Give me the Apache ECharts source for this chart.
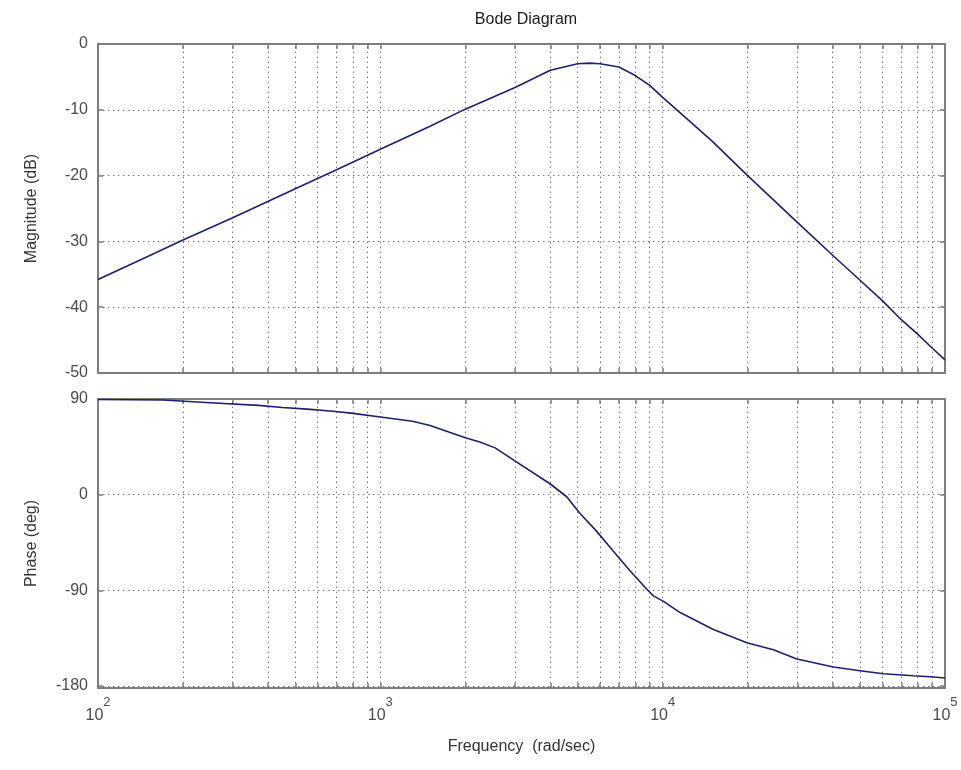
<!DOCTYPE html>
<html>
<head>
<meta charset="utf-8">
<script src="https://cdn.jsdelivr.net/npm/echarts@6/dist/echarts.min.js"></script>
<style>html,body{margin:0;padding:0;background:#fff}#chart{width:961px;height:770px}</style>
</head>
<body>
<div id="chart"></div>
<script>
// ---- data ----
const magFreq = [100,150,200,300,500,700,1000,1500,2000,3000,4000,5000,5500,6000,7000,8000,9000,10000,15000,20000,30000,40000,50000,60000,70000,80000,90000,100000];
const magDb   = [-35.8,-32.3,-29.8,-26.4,-22.0,-19.1,-16.0,-12.5,-9.9,-6.6,-4.0,-3.0,-2.9,-3.0,-3.5,-4.8,-6.3,-8.1,-14.8,-20.0,-27.1,-32.1,-35.9,-39.0,-41.9,-44.1,-46.2,-48.0];

const phaseFreq = [100,170,250,370,450,550,680,800,1000,1300,1500,2000,2250,2550,2950,4000,4570,5090,5840,6680,7660,8790,9270,10070,11530,13200,15130,19870,24680,29870,40250,50000,60500,77300,91000,100000];
const phaseDeg  = [89.5,89,86.5,84,82,80.5,78.5,76.5,73,69,65,53.5,49.5,44,33,10,-2,-17.6,-34.6,-53,-71.7,-89,-95.3,-100.5,-111,-119,-127,-139.5,-146,-154.7,-162.3,-165.7,-168.6,-170.5,-171.7,-172.6];

// ---- axis ticks / labels ----
const xLabelFreqs = [100,1000,10000,100000];
const xLabelExp = ['2','3','4','5'];
const xTickFreqs = [100,200,300,400,500,600,700,800,900,1000,2000,3000,4000,5000,6000,7000,8000,9000,10000,20000,30000,40000,50000,60000,70000,80000,90000,100000];
const xGridFreqs = [200,300,400,500,600,700,800,900,1000,2000,3000,4000,5000,6000,7000,8000,9000,10000,20000,30000,40000,50000,60000,70000,80000,90000];
const magTicks = [0,-10,-20,-30,-40,-50];
const magGrid = [-10,-20,-30,-40];
const phaseTicks = [90,0,-90,-180];
const phaseGrid = [0,-90,-180];

const FONT = 'Liberation Sans, Arial, sans-serif';
const AX = '#7d7d7d';
const LINE = '#1f1f6b';
const gridLine = {color:'#707070', width:1, type:[1.4,3.6]};

function xAxisDef(gi, pos, withLabels){
  const a = {
    gridIndex: gi, type:'log', logBase:10, min:100, max:100000, position: pos,
    axisLine:{show:true, onZero:false, lineStyle:{color:AX, width:2}},
    axisTick:{show:true, inside:true, length:5, lineStyle:{color:AX, width:1.5}, customValues: xTickFreqs},
    minorTick:{show:false}, splitLine:{show:false},
    axisLabel:{show:false}
  };
  if (withLabels){
    a.axisLabel = {
      show:true, margin:8, customValues: xLabelFreqs,
      formatter: function(v){ const i = xLabelFreqs.indexOf(v); const e = i>=0 ? xLabelExp[i] : String(Math.round(Math.log10(v))); return '{b|10}{s|' + e + '}'; },
      rich:{
        b:{fontFamily:FONT, fontSize:16, color:'#4a4a4a', lineHeight:28, verticalAlign:'bottom'},
        s:{fontFamily:FONT, fontSize:13, color:'#4a4a4a', lineHeight:28, verticalAlign:'top'}
      }
    };
    a.name = 'Frequency  (rad/sec)';
    a.nameLocation = 'middle';
    a.nameGap = 51;
    a.nameTextStyle = {fontFamily:FONT, fontSize:16, color:'#333'};
  }
  return a;
}
function yAxisDef(gi, pos, min, max, ticks, withLabels, name){
  const a = {
    gridIndex: gi, type:'value', min:min, max:max, position: pos,
    axisLine:{show:true, onZero:false, lineStyle:{color:AX, width:2}},
    axisTick:{show:true, inside:true, length:5, lineStyle:{color:AX, width:1.5}, customValues: ticks},
    splitLine:{show:false},
    axisLabel:{show:withLabels, customValues: ticks, margin:10, fontFamily:FONT, fontSize:16, color:'#4a4a4a'}
  };
  if (name){
    a.name = name; a.nameLocation='middle'; a.nameGap = 58;
    a.nameTextStyle = {fontFamily:FONT, fontSize:16, color:'#333'};
  }
  return a;
}

const chart = echarts.init(document.getElementById('chart'), null, {renderer:'canvas'});
chart.setOption({
  animation:false,
  backgroundColor:'#fff',
  title:{text:'Bode Diagram', left:521, top:7, textAlign:'center',
    textStyle:{fontFamily:FONT, fontSize:16, fontWeight:'normal', color:'#1a1a1a'}},
  grid:[
    {left:98, top:44, width:847, height:329, containLabel:false},
    {left:98, top:399, width:847, height:289, containLabel:false}
  ],
  xAxis:[ xAxisDef(0,'bottom',false), xAxisDef(1,'bottom',true), xAxisDef(0,'top',false), xAxisDef(1,'top',false) ],
  yAxis:[
    yAxisDef(0,'left',-50,0,magTicks,true,'Magnitude (dB)'),
    yAxisDef(1,'left',-182,90,phaseTicks,true,'Phase (deg)'),
    yAxisDef(0,'right',-50,0,magTicks,false,null),
    yAxisDef(1,'right',-182,90,phaseTicks,false,null)
  ],
  series:[
    {type:'line', xAxisIndex:0, yAxisIndex:0, showSymbol:false, z:5,
     data: magFreq.map((f,i)=>[f, magDb[i]]), smooth:false,
     lineStyle:{color:LINE, width:1.6},
     markLine:{silent:true, symbol:'none', label:{show:false}, lineStyle:gridLine, animation:false,
       data: xGridFreqs.map(f=>({xAxis:f})).concat(magGrid.map(v=>({yAxis:v})))}
    },
    {type:'line', xAxisIndex:1, yAxisIndex:1, showSymbol:false, z:5,
     data: phaseFreq.map((f,i)=>[f, phaseDeg[i]]), smooth:false,
     lineStyle:{color:LINE, width:1.6},
     markLine:{silent:true, symbol:'none', label:{show:false}, lineStyle:gridLine, animation:false,
       data: xGridFreqs.map(f=>({xAxis:f})).concat(phaseGrid.map(v=>({yAxis:v})))}
    }
  ]
});
</script>
</body>
</html>
